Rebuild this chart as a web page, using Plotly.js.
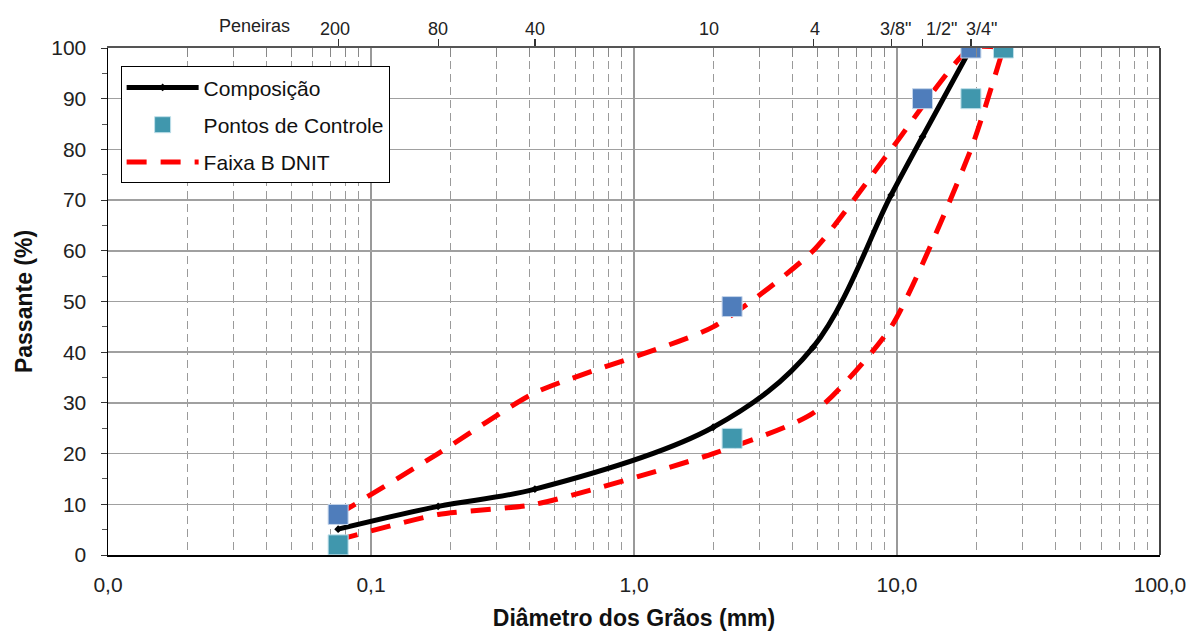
<!DOCTYPE html>
<html>
<head>
<meta charset="utf-8">
<script src="https://cdn.plot.ly/plotly-3.0.1.min.js"></script>
<style>html,body{margin:0;padding:0;background:#fff;}#chart{width:1196px;height:633px;}</style>
</head>
<body>
<div id="chart"></div>
<script>
// Sieves (Peneiras)
const sieveLabels = ['200', '80', '40', '10', '4', '3/8"', '1/2"', '3/4"'];
const sieveSizes = [0.075, 0.18, 0.42, 2.0, 4.8, 9.5, 12.5, 19.1];
// Composição (% passante)
const composicao = [5.1, 9.6, 13.0, 25.2, 41.0, 71.0, 82.5, 100];
// Faixa B DNIT
const faixaSizes = [0.075, 0.18, 0.42, 2.0, 4.8, 9.5, 19.1, 25.4];
const faixaSup = [8, 20, 32, 45, 60, 80, 100, 100];
const faixaInf = [3, 8, 10, 20, 28, 45, 80, 100];
// Pontos de Controle
const ctrlSupSizes = [0.075, 2.36, 12.5, 19.1];
const ctrlSup = [8, 49, 90, 100];
const ctrlInfSizes = [0.075, 2.36, 19.1, 25.4];
const ctrlInf = [2, 23, 90, 100];
// Axis tick labels
const xTickVals = [0.01, 0.1, 1, 10, 100];
const xTickText = ['0,0', '0,1', '1,0', '10,0', '100,0'];

// minor log grid positions (2..9 of each decade)
const minorVals = [];
for (let d = -2; d < 2; d++) {
  for (let k = 2; k <= 9; k++) minorVals.push(k * Math.pow(10, d));
}

const FONT = 'Liberation Sans, Arial, sans-serif';
const RED_DASH = '20px,14px';

const traces = [
  {
    x: faixaSizes, y: faixaSup, type: 'scatter', mode: 'lines', name: 'Faixa B DNIT',
    line: {color: '#ff0000', width: 5, dash: RED_DASH, shape: 'spline', smoothing: 0.6},
    legendgroup: 'faixa', legendrank: 3, xaxis: 'x', yaxis: 'y'
  },
  {
    x: faixaSizes, y: faixaInf, type: 'scatter', mode: 'lines', name: 'Faixa B DNIT',
    line: {color: '#ff0000', width: 5, dash: RED_DASH, shape: 'spline', smoothing: 0.6},
    legendgroup: 'faixa', showlegend: false, xaxis: 'x', yaxis: 'y'
  },
  {
    x: sieveSizes, y: composicao, type: 'scatter', mode: 'lines+markers', name: 'Composição',
    line: {color: '#000000', width: 5, shape: 'spline', smoothing: 1},
    marker: {symbol: 'diamond', size: 6, color: '#000000'},
    legendgroup: 'comp', legendrank: 1, xaxis: 'x', yaxis: 'y'
  },
  {
    x: ctrlInfSizes, y: ctrlInf, type: 'scatter', mode: 'markers', name: 'Pontos de Controle',
    marker: {symbol: 'square', size: 20, color: '#4097ad', line: {color: '#bfe0ea', width: 1}},
    legendgroup: 'ctrl', legendrank: 2, xaxis: 'x', yaxis: 'y'
  },
  {
    x: ctrlSupSizes, y: ctrlSup, type: 'scatter', mode: 'markers', name: 'Pontos de Controle (superior)',
    marker: {symbol: 'square', size: 20, color: '#4f7dbb', line: {color: '#c5d5ea', width: 1}},
    showlegend: false, xaxis: 'x', yaxis: 'y'
  },
  {
    // invisible helper to activate the top sieve axis
    x: sieveSizes, y: composicao, type: 'scatter', mode: 'markers', hoverinfo: 'skip',
    marker: {opacity: 0}, showlegend: false, xaxis: 'x2', yaxis: 'y'
  }
];

// sieve labels on top (slight horizontal offsets so the crowded ones don't overlap)
const sieveShift = [-3, 0, 0, -4, 2, 4, 19, 11];
const sieveAnnotations = sieveSizes.map((s, i) => ({
  text: sieveLabels[i], xref: 'x', yref: 'paper', x: Math.log10(s), y: 1.013,
  xanchor: 'center', yanchor: 'bottom', xshift: sieveShift[i], showarrow: false,
  font: {family: FONT, size: 18, color: '#222'}
}));

const layout = {
  width: 1196, height: 633,
  margin: {l: 108, r: 36, t: 48, b: 78},
  paper_bgcolor: '#ffffff', plot_bgcolor: '#ffffff',
  font: {family: FONT, color: '#222222'},
  showlegend: true,
  legend: {
    x: 0.012, y: 0.964, xanchor: 'left', yanchor: 'top',
    bgcolor: '#ffffff', bordercolor: '#000000', borderwidth: 1,
    font: {family: FONT, size: 21, color: '#111111'},
    traceorder: 'grouped', tracegroupgap: 7, itemwidth: 72
  },
  xaxis: {
    type: 'log', range: [-2, 2],
    tickmode: 'array', tickvals: xTickVals, ticktext: xTickText,
    tickfont: {family: FONT, size: 21, color: '#222'},
    ticklabelstandoff: 10,
    showgrid: true, gridcolor: '#999999', gridwidth: 1.5,
    showline: true, linecolor: '#000000', linewidth: 1.5,
    ticks: '', zeroline: false,
    minor: {tickmode: 'array', tickvals: minorVals, showgrid: true, gridcolor: '#9a9a9a',
            griddash: '8px,5px', gridwidth: 1, ticks: ''},
    title: {text: '<b>Diâmetro dos Grãos (mm)</b>', font: {family: FONT, size: 23, color: '#111'}, standoff: 15},
    automargin: false
  },
  xaxis2: {
    type: 'log', range: [-2, 2], overlaying: 'x', side: 'top',
    tickmode: 'array', tickvals: sieveSizes, ticktext: sieveLabels.map(() => ''),
    ticks: 'outside', ticklen: 7, tickcolor: '#333', tickwidth: 1.2,
    showline: true, linecolor: '#555555', linewidth: 2,
    showgrid: false, zeroline: false,
    minor: {tickmode: 'array', tickvals: minorVals, ticks: 'inside', ticklen: 9, tickcolor: '#888', tickwidth: 1, showgrid: false},
    automargin: false
  },
  yaxis: {
    range: [0, 100], dtick: 10, tick0: 0,
    tickfont: {family: FONT, size: 21, color: '#222'},
    ticklabelstandoff: 10,
    showgrid: true, gridcolor: '#a0a0a0', gridwidth: 1.5,
    showline: true, linecolor: '#000000', linewidth: 1.5,
    ticks: 'outside', ticklen: 6, tickcolor: '#333', zeroline: false,
    minor: {dtick: 5, ticks: 'outside', ticklen: 5, tickcolor: '#555', showgrid: false},
    title: {text: '<b>Passante (%)</b>', font: {family: FONT, size: 23, color: '#111'}, standoff: 12},
    automargin: false
  },
  shapes: [
    {type: 'line', xref: 'paper', yref: 'paper', x0: 1, x1: 1, y0: 0, y1: 1, line: {color: '#444444', width: 2}}
  ],
  annotations: [
    {text: 'Peneiras', xref: 'paper', yref: 'paper', x: 0.139, y: 1.02, xanchor: 'center', yanchor: 'bottom',
     showarrow: false, font: {family: FONT, size: 18, color: '#222'}}
  ].concat(sieveAnnotations)
};

Plotly.newPlot('chart', traces, layout, {displayModeBar: false, staticPlot: true});
</script>
</body>
</html>
